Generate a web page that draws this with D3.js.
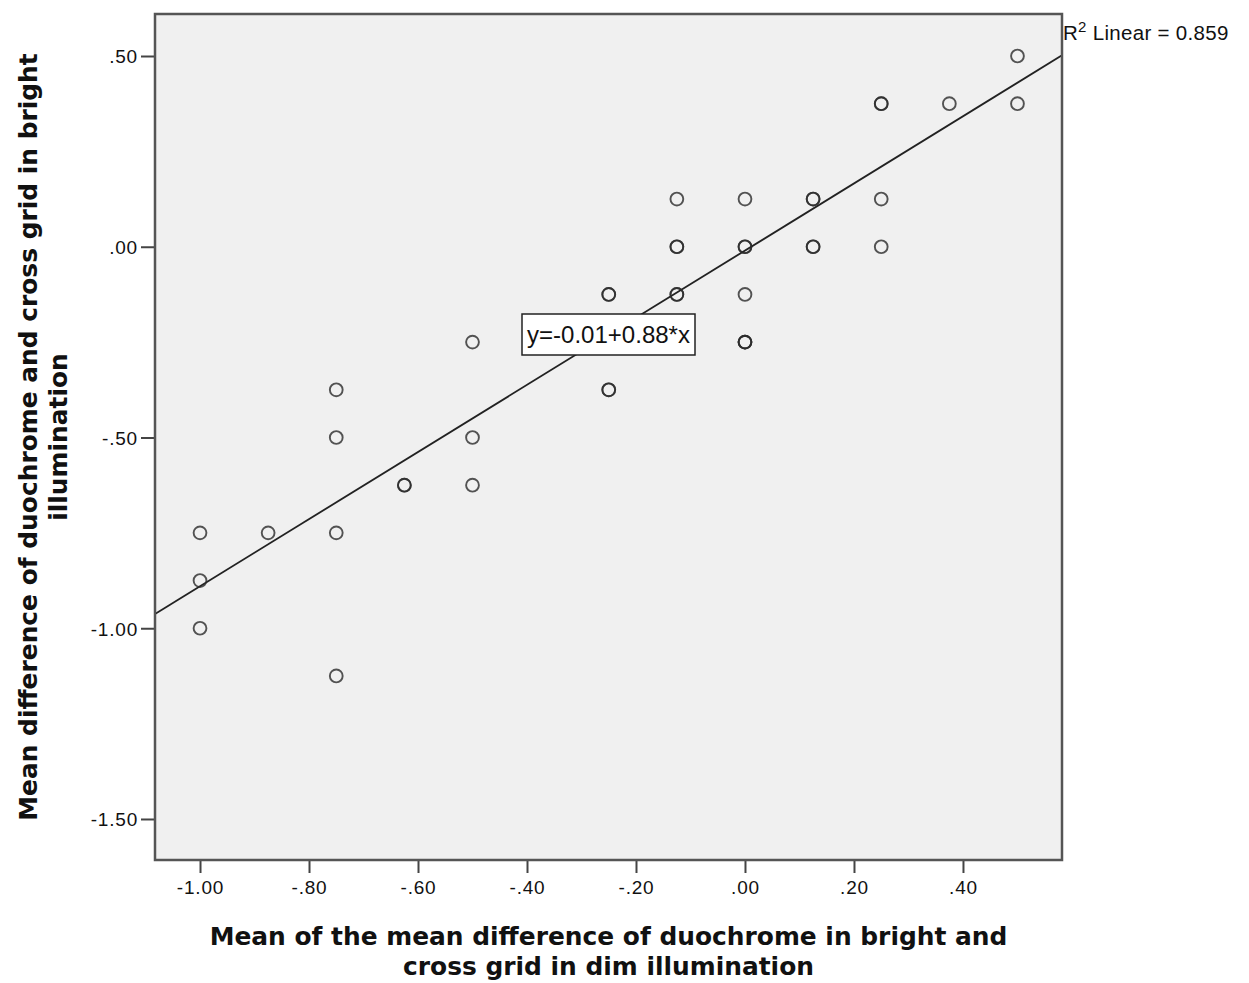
<!DOCTYPE html>
<html>
<head>
<meta charset="utf-8">
<script src="https://cdn.jsdelivr.net/npm/d3@7"></script>
<style>
  html, body { margin: 0; padding: 0; background: #ffffff; }
  svg { display: block; }
</style>
</head>
<body>
<script>
// ---- data ----
const xValues = [-1.0, -1.0, -1.0, -0.875, -0.75, -0.75, -0.75, -0.75,
  -0.625, -0.625, -0.5, -0.5, -0.5,
  -0.25, -0.25, -0.25, -0.25,
  -0.125, -0.125, -0.125, -0.125, -0.125,
  0, 0, 0, 0, 0, 0, 0,
  0.125, 0.125, 0.125, 0.125,
  0.25, 0.25, 0.25, 0.25, 0.375, 0.5, 0.5];
const yValues = [-0.75, -0.875, -1.0, -0.75, -0.375, -0.5, -0.75, -1.125,
  -0.625, -0.625, -0.25, -0.5, -0.625,
  -0.125, -0.125, -0.375, -0.375,
  0.125, 0.0, 0.0, -0.125, -0.125,
  0.125, 0.0, 0.0, -0.125, -0.25, -0.25, -0.25,
  0.125, 0.125, 0.0, 0.0,
  0.375, 0.375, 0.125, 0.0, 0.375, 0.5, 0.375];
const xTicks = [-1.0, -0.8, -0.6, -0.4, -0.2, 0.0, 0.2, 0.4];
const yTicks = [0.5, 0.0, -0.5, -1.0, -1.5];
const fitIntercept = -0.01;
const fitSlope = 0.88;
const rSquared = 0.859;
const xTitleLines = ["Mean of the mean difference of duochrome in bright and", "cross grid in dim illumination"];
const yTitleLines = ["Mean difference of duochrome and cross grid in bright", "illumination"];

// ---- layout ----
const W = 1249, H = 983;
const plot = { left: 155, right: 1062, top: 14, bottom: 860 };

const fmt = v => {
  const s = (Math.abs(v) < 1e-9 ? 0 : v).toFixed(2);
  return s.replace(/^(-?)0\./, "$1.");
};

const x = d3.scaleLinear().domain([-1.0826, 0.5817]).range([plot.left, plot.right]);
const y = d3.scaleLinear().domain([-1.6075, 0.6101]).range([plot.bottom, plot.top]);

const svg = d3.select("body").append("svg").attr("width", W).attr("height", H);

// plot background
svg.append("rect")
  .attr("x", plot.left).attr("y", plot.top)
  .attr("width", plot.right - plot.left).attr("height", plot.bottom - plot.top)
  .attr("fill", "#f0f0f0");

// fit line
const xd = x.domain();
svg.append("line")
  .attr("x1", x(xd[0])).attr("y1", y(fitIntercept + fitSlope * xd[0]))
  .attr("x2", x(xd[1])).attr("y2", y(fitIntercept + fitSlope * xd[1]))
  .attr("stroke", "#222").attr("stroke-width", 1.8);

// points
const pts = xValues.map((v, i) => ({ x: v, y: yValues[i] }));
svg.append("g").selectAll("circle").data(pts).join("circle")
  .attr("cx", d => x(d.x)).attr("cy", d => y(d.y)).attr("r", 6.4)
  .attr("fill", "none").attr("stroke", "#2a2a2a").attr("stroke-width", 1.9)
  .attr("stroke-opacity", 0.8);

// axes
const xAxis = d3.axisBottom(x).tickValues(xTicks).tickFormat(fmt).tickSize(13).tickSizeOuter(0);
const gx = svg.append("g").attr("transform", `translate(0,${plot.bottom})`).call(xAxis);
const yAxis = d3.axisLeft(y).tickValues(yTicks).tickFormat(fmt).tickSize(14).tickSizeOuter(0);
const gy = svg.append("g").attr("transform", `translate(${plot.left},0)`).call(yAxis);
[gx, gy].forEach(g => {
  g.select(".domain").remove();
  g.selectAll(".tick line").attr("stroke", "#444").attr("stroke-width", 2);
  g.selectAll(".tick text")
    .attr("fill", "#111")
    .style("font-family", "'Liberation Sans', Arial, sans-serif")
    .style("font-size", "19px")
    .style("letter-spacing", "0.8px");
});
gx.selectAll(".tick text").attr("dy", null).attr("y", 34);
gy.selectAll(".tick text").attr("x", -17).attr("dy", "0.36em");

// frame
svg.append("rect")
  .attr("x", plot.left).attr("y", plot.top)
  .attr("width", plot.right - plot.left).attr("height", plot.bottom - plot.top)
  .attr("fill", "none").attr("stroke", "#555").attr("stroke-width", 2.5);

// equation label
const eqG = svg.append("g");
eqG.append("rect").attr("x", 522).attr("y", 314).attr("width", 173).attr("height", 41)
  .attr("fill", "#ffffff").attr("stroke", "#222").attr("stroke-width", 1.5);
eqG.append("text").attr("x", 608.5).attr("y", 343).attr("text-anchor", "middle")
  .style("font-family", "'Liberation Sans', Arial, sans-serif").style("font-size", "23px")
  .attr("textLength", 163).attr("lengthAdjust", "spacingAndGlyphs")
  .attr("fill", "#111")
  .text(`y=${fitIntercept.toFixed(2)}+${fitSlope.toFixed(2)}*x`);

// R squared label
const r2 = svg.append("text").attr("x", 1063).attr("y", 40)
  .style("font-family", "'Liberation Sans', Arial, sans-serif").style("font-size", "20.5px")
  .style("letter-spacing", "0.3px")
  .attr("fill", "#111");
r2.append("tspan").text("R");
r2.append("tspan").attr("dy", -8).style("font-size", "15px").text("2");
r2.append("tspan").attr("dy", 8).text(` Linear = ${rSquared.toFixed(3)}`);

// axis titles
const titleFont = "'DejaVu Sans', Verdana, sans-serif";
const cx = (plot.left + plot.right) / 2;
xTitleLines.forEach((t, i) => {
  svg.append("text").attr("x", cx).attr("y", 945 + i * 30)
    .attr("text-anchor", "middle")
    .style("font-family", titleFont).style("font-size", "24.9px").style("font-weight", "bold")
    .attr("fill", "#111").text(t);
});
const cy = (plot.top + plot.bottom) / 2;
yTitleLines.forEach((t, i) => {
  svg.append("text")
    .attr("transform", `translate(${37 + i * 30},${cy}) rotate(-90)`)
    .attr("text-anchor", "middle")
    .style("font-family", titleFont).style("font-size", "24.9px").style("font-weight", "bold")
    .attr("fill", "#111").text(t);
});
</script>
</body>
</html>
